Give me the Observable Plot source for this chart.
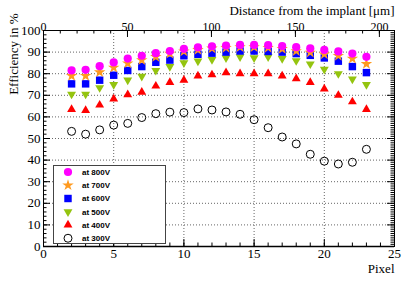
<!DOCTYPE html>
<html><head><meta charset="utf-8">
<script src="https://cdn.jsdelivr.net/npm/d3@7"></script>
<script src="https://cdn.jsdelivr.net/npm/@observablehq/plot@0.6"></script>
<style>html,body{margin:0;padding:0;background:#fff}#chart{width:415px;height:281px}</style>
</head><body><div id="chart"></div>
<script>
// ---- data ----
const pixels = [2,3,4,5,6,7,8,9,10,11,12,13,14,15,16,17,18,19,20,21,22,23];
const eff800 = [81.5,81.8,83.5,85.2,87.0,88.3,89.5,90.5,91.5,92.2,92.7,93.0,93.3,93.3,93.2,92.8,92.3,91.7,91.0,90.3,89.3,87.8];
const eff700 = [79.0,79.0,80.7,82.8,84.8,86.3,87.8,89.3,90.3,91.0,91.7,92.0,92.3,92.3,92.0,91.5,90.5,89.8,89.0,88.3,87.0,84.5];
const eff600 = [75.3,75.3,77.0,79.3,81.5,83.3,85.3,86.3,88.3,89.0,89.5,90.0,90.5,90.5,90.3,90.0,89.3,88.5,87.3,85.8,83.3,80.5];
const eff500 = [70.5,70.5,73.5,75.0,77.0,78.8,81.5,83.3,85.0,85.8,86.5,87.3,87.8,87.3,87.8,87.0,86.0,84.5,82.0,80.0,77.5,75.0];
const eff400 = [63.5,63.0,65.5,68.3,70.3,71.5,74.3,76.0,77.0,79.0,79.5,80.5,80.0,80.0,80.0,79.0,77.7,76.0,73.0,70.0,67.0,63.5];
const eff300 = [53.3,52.0,54.0,56.2,57.0,59.7,61.5,62.2,62.0,63.7,63.2,62.3,61.2,58.7,55.0,50.7,47.5,42.7,39.5,38.2,39.0,45.0];
const seriesLabels = ["at 800V","at 700V","at 600V","at 500V","at 400V","at 300V"];
const xMajor = [0,5,10,15,20,25];
const yMajor = [0,10,20,30,40,50,60,70,80,90,100];
const umMajor = [0,50,100,150,200];
const umPerPixel = 8.36;

// ---- styles ----
const styles = [
  {values: eff800, symbol:"circle",   fill:"#ff00ff", stroke:"none", r:4.1, rotate:0},
  {values: eff700, symbol:"star",     fill:"#ff9a1f", stroke:"none", r:3.6, rotate:0},
  {values: eff600, symbol:"square",   fill:"#0000ff", stroke:"none", r:4.2, rotate:0},
  {values: eff500, symbol:"triangle", fill:"#94c40f", stroke:"none", r:3.3, rotate:180},
  {values: eff400, symbol:"triangle", fill:"#ff0000", stroke:"none", r:3.3, rotate:0},
  {values: eff300, symbol:"circle",   fill:"none",    stroke:"#000", r:4.0, rotate:0}
];

const W=415, H=281, mL=43, mR=21, mT=30, mB=35;
const pW=W-mL-mR, pH=H-mT-mB;
const serif = "'Liberation Serif', 'Times New Roman', serif";
const major=7, minor=3.5;

const dotMarks = styles.slice().reverse().map(s =>
  Plot.dot(pixels.map((p,i)=>({p, v:s.values[i]})), {
    x:"p", y:"v", symbol:s.symbol, fill:s.fill, stroke:s.stroke, r:s.r, rotate:s.rotate, strokeWidth:1
  })
);

const plot = Plot.plot({
  width: W, height: H,
  marginLeft: mL, marginRight: mR, marginTop: mT, marginBottom: mB,
  x: {domain:[0,25], axis:null},
  y: {domain:[0,100], axis:null},
  style: {fontFamily: serif, background:"#fff"},
  marks: [
    Plot.gridX([5,10,15,20], {stroke:"#666", strokeOpacity:1, strokeDasharray:"1,2"}),
    Plot.gridY(d3.range(10,100,10), {stroke:"#666", strokeOpacity:1, strokeDasharray:"1,2"}),
    // ticks bottom
    Plot.tickX(d3.range(0,26,1), {x:d=>d, insetTop:pH-minor, stroke:"#000"}),
    Plot.tickX(xMajor, {x:d=>d, insetTop:pH-major, stroke:"#000"}),
    // ticks top (um)
    Plot.tickX(d3.range(0,201,10), {x:d=>d/umPerPixel, insetBottom:pH-minor, stroke:"#000"}),
    Plot.tickX(umMajor, {x:d=>d/umPerPixel, insetBottom:pH-major, stroke:"#000"}),
    // ticks left
    Plot.tickY(d3.range(0,101,2), {y:d=>d, insetRight:pW-minor, stroke:"#000"}),
    Plot.tickY(yMajor, {y:d=>d, insetRight:pW-major, stroke:"#000"}),
    // ticks right
    Plot.tickY(d3.range(0,101,1), {y:d=>d, insetLeft:pW-minor, stroke:"#000"}),
    Plot.tickY(yMajor, {y:d=>d, insetLeft:pW-major, stroke:"#000"}),
    Plot.frame({stroke:"#000"}),
    Plot.ruleY([0], {stroke:"#000", strokeWidth:1.5}),
    // tick labels
    Plot.text(yMajor, {y:d=>d, frameAnchor:"left", dx:-3, textAnchor:"end", text:d=>String(d), fontSize:13, fontFamily:serif}),
    Plot.text(xMajor, {x:d=>d, frameAnchor:"bottom", lineAnchor:"top", dy:2, text:d=>String(d), fontSize:13, fontFamily:serif}),
    Plot.text(umMajor, {x:d=>d/umPerPixel, frameAnchor:"top", lineAnchor:"bottom", dy:0, text:d=>String(d), fontSize:12, fontFamily:serif}),
    // axis titles
    Plot.text(["Pixel"], {frameAnchor:"bottom-right", textAnchor:"end", lineAnchor:"bottom", dy:26, text:d=>d, fontSize:13, fontFamily:serif}),
    Plot.text(["Distance from the implant [μm]"], {frameAnchor:"top-right", textAnchor:"end", lineAnchor:"bottom", dy:-16, text:d=>d, fontSize:13, fontFamily:serif}),
    Plot.text(["Efficiency in %"], {frameAnchor:"top-left", textAnchor:"end", lineAnchor:"middle", rotate:-90, dx:-30, dy:-17, text:d=>d, fontSize:13, fontFamily:serif}),
    ...dotMarks
  ]
});

// ---- legend (inside frame, bottom-left) ----
const svg = d3.select(plot);
const lg = svg.append("g").attr("text-anchor","start");
const lx=53.5, ly=165.5, lw=112, lh=78;
lg.append("rect").attr("x",lx).attr("y",ly).attr("width",lw).attr("height",lh)
  .attr("fill","#fff").attr("stroke","#444").attr("stroke-width",1);
styles.forEach((s,i)=>{
  const cy = 172 + i*13.25, cx = 68;
  const typeMap = {circle:d3.symbolCircle, star:d3.symbolStar, square:d3.symbolSquare, triangle:d3.symbolTriangle};
  lg.append("path")
    .attr("d", d3.symbol(typeMap[s.symbol], Math.PI*s.r*s.r)())
    .attr("transform", `translate(${cx},${cy}) rotate(${s.rotate})`)
    .attr("fill", s.fill).attr("stroke", s.stroke).attr("stroke-width",1);
  lg.append("text").attr("x",82).attr("y",cy).attr("dy","0.35em")
    .attr("text-anchor","start")
    .attr("font-family","'Liberation Sans', Arial, sans-serif").attr("font-weight","bold")
    .attr("font-size",8).attr("fill","#000").text(seriesLabels[i]);
});

document.getElementById("chart").appendChild(plot);
</script>
</body></html>
